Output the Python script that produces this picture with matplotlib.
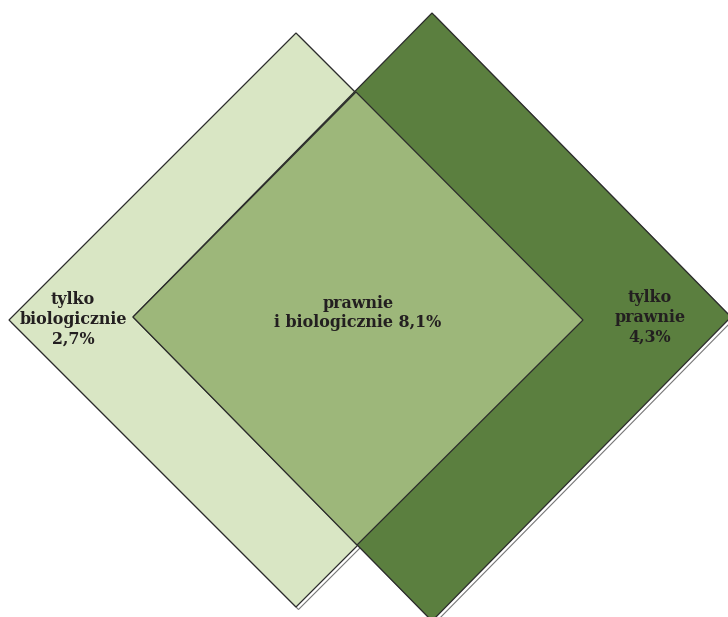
import matplotlib.pyplot as plt
from matplotlib.patches import Polygon

## Shares of the groups (percent)
groups = ['tylko\nbiologicznie', 'prawnie\ni biologicznie', 'tylko\nprawnie']
shares = [2.7, 8.1, 4.3]

colors = {'light': '#d9e6c4', 'mid': '#9db77a', 'dark': '#5b7f3f'}
edge = '#2b2b2b'


def diamond(cx, cy, hw, hh):
    return [(cx, cy - hh), (cx + hw, cy), (cx, cy + hh), (cx - hw, cy)]


fig = plt.figure(figsize=(7.28, 6.17), dpi=100)
ax = fig.add_axes([0, 0, 1, 1])
ax.set_xlim(0, 728)
ax.set_ylim(617, 0)
ax.axis('off')

light = diamond(296, 320, 287, 287)
dark = diamond(432, 317, 299, 304)

## shadow lines, offset a little down-right
for pts in (light, dark):
    shadow = [(x + 2.5, y + 2.5) for x, y in pts]
    ax.add_patch(Polygon(shadow, closed=True, facecolor='none',
                         edgecolor='#777777', lw=0.8, zorder=1))

ax.add_patch(Polygon(light, closed=True, facecolor=colors['light'],
                     edgecolor=edge, lw=0.9, zorder=2))
ax.add_patch(Polygon(dark, closed=True, facecolor=colors['dark'],
                     edgecolor=edge, lw=0.9, zorder=3))

## overlap of the two diamonds
overlap = [(356, 92), light[1], (357, 545), dark[3]]
ax.add_patch(Polygon(overlap, closed=True, facecolor=colors['mid'],
                     edgecolor=edge, lw=0.9, zorder=4))

label_pos = [(73, 319), (358, 313), (650, 317)]
for (x, y), g, s in zip(label_pos, groups, shares):
    val = '{:.1f}%'.format(s).replace('.', ',')
    if g.startswith('prawnie'):
        txt = g + ' ' + val
    else:
        txt = g + '\n' + val
    ax.text(x, y, txt, ha='center', va='center', fontsize=11.4,
            fontweight='bold', family='DejaVu Serif', color='#231f20',
            linespacing=1.2, zorder=5)

fig.savefig('out.png', dpi=100)
